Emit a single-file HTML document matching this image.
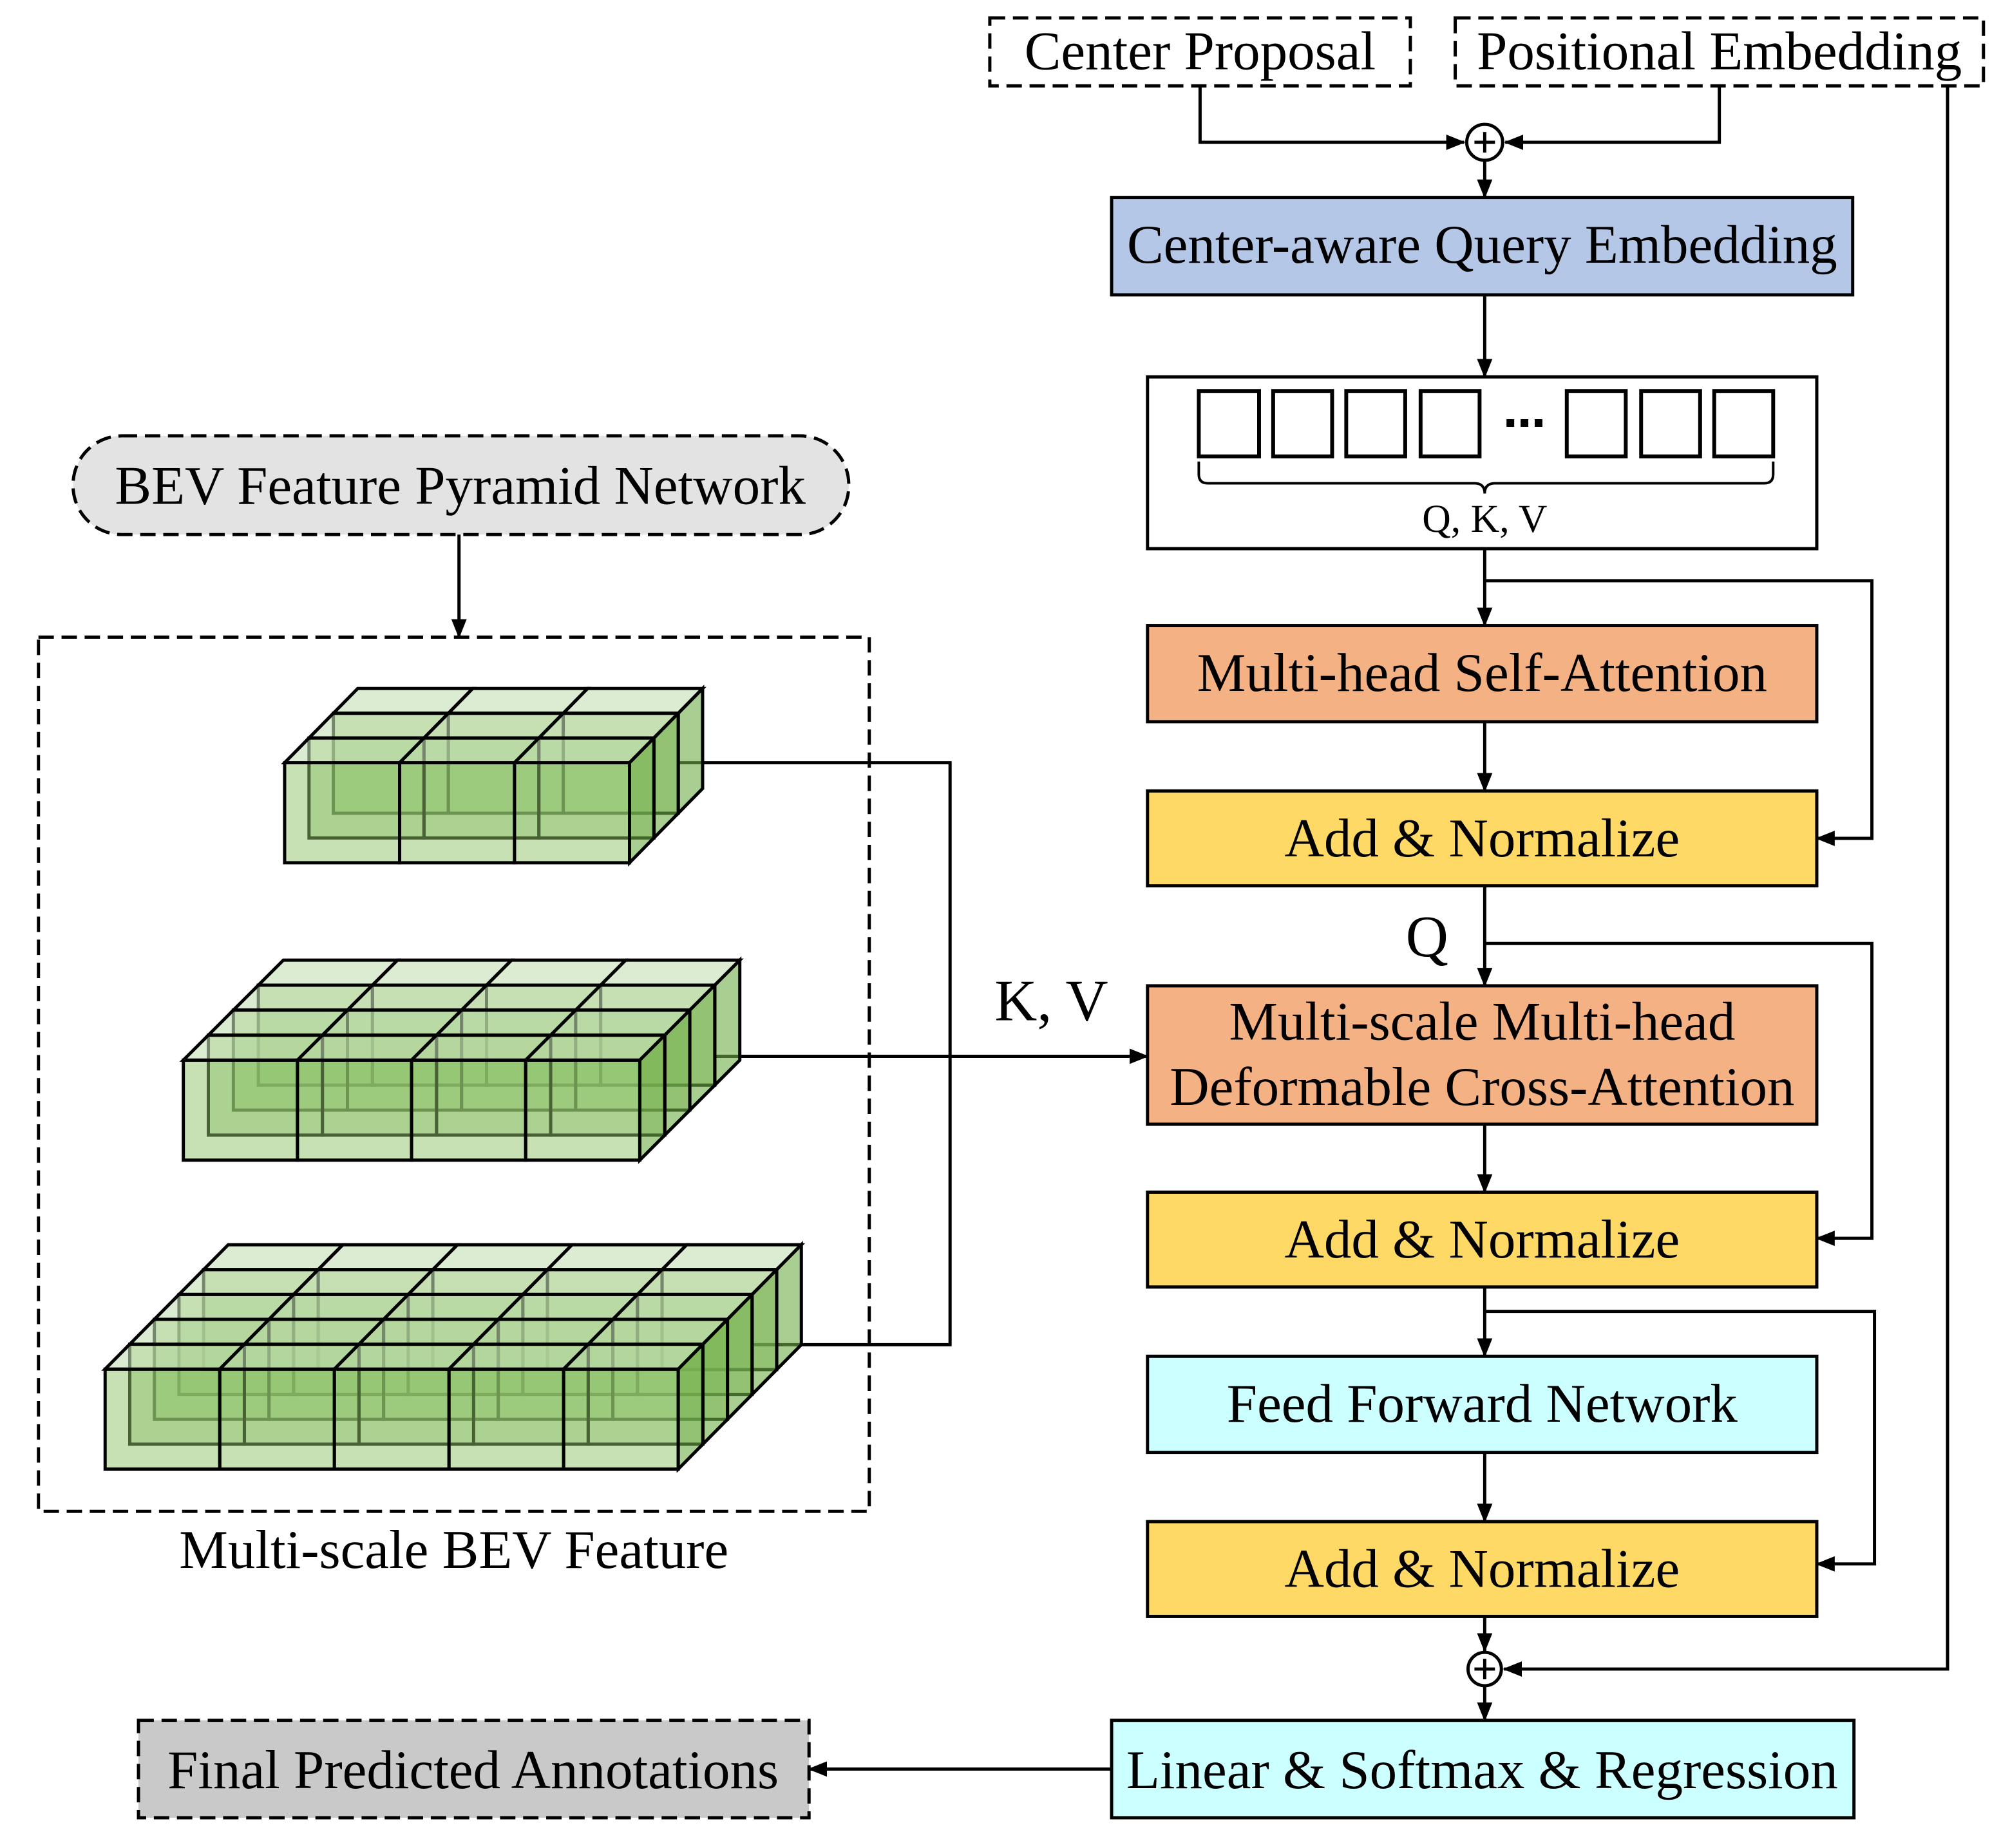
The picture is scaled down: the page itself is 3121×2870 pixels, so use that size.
<!DOCTYPE html>
<html><head><meta charset="utf-8"><style>
html,body{margin:0;padding:0;background:#fff}
svg{display:block}
text{font-family:"Liberation Serif",serif;fill:#000}
</style></head><body>
<svg id="s" width="3121" height="2870" viewBox="0 0 1567.7 1441.6" xmlns="http://www.w3.org/2000/svg">
<defs>
<marker id="b" markerWidth="16" markerHeight="12" refX="14" refY="6" orient="auto" markerUnits="userSpaceOnUse"><path d="M0,0 L15,6 L0,12 z" fill="#000"/></marker></defs>
<g stroke="#000" stroke-width="2.5" fill="none">
<rect x="772" y="14" width="328" height="53" stroke-dasharray="12,6"/>
<rect x="1135" y="14" width="412" height="53" stroke-dasharray="12,6"/>
<circle cx="1158" cy="111" r="14"/>
<path d="M1150,111h16M1158,103v16"/>
<path d="M936,67V111H1142" marker-end="url(#b)"/>
<path d="M1341,67V111H1174" marker-end="url(#b)"/>
<path d="M1519,67V1302H1173" marker-end="url(#b)"/>
<path d="M1158,125V154" marker-end="url(#b)"/>
<rect x="867" y="154" width="578" height="76" fill="#b4c7e7"/>
<path d="M1158,230V294" marker-end="url(#b)"/>
<rect x="895" y="294" width="522" height="134" fill="#fff"/>
<g stroke-width="3">
<rect x="935" y="305" width="47" height="51"/><rect x="993" y="305" width="46" height="51"/>
<rect x="1050" y="305" width="46" height="51"/><rect x="1108" y="305" width="46" height="51"/>
<rect x="1222" y="305" width="46" height="51"/><rect x="1280" y="305" width="46" height="51"/>
<rect x="1337" y="305" width="46" height="51"/>
</g>
<path d="M935,360v10q0,7 7,7H1150q8,0 8,8q0,-8 8,-8H1376q7,0 7,-7v-10" stroke-width="2"/>
<path d="M1158,428V488" marker-end="url(#b)"/>
<path d="M1158,453H1460V654H1417" marker-end="url(#b)"/>
<rect x="895" y="488" width="522" height="75" fill="#f4b183"/>
<path d="M1158,563V617" marker-end="url(#b)"/>
<rect x="895" y="617" width="522" height="74" fill="#ffd966"/>
<path d="M1158,691V769" marker-end="url(#b)"/>
<path d="M1158,736H1460V966H1417" marker-end="url(#b)"/>
<rect x="895" y="769" width="522" height="108" fill="#f4b183"/>
<path d="M1158,877V930" marker-end="url(#b)"/>
<rect x="895" y="930" width="522" height="74" fill="#ffd966"/>
<path d="M1158,1004V1058" marker-end="url(#b)"/>
<path d="M1158,1023H1462V1220H1417" marker-end="url(#b)"/>
<rect x="895" y="1058" width="522" height="75" fill="#ccffff"/>
<path d="M1158,1133V1187" marker-end="url(#b)"/>
<rect x="895" y="1187" width="522" height="74" fill="#ffd966"/>
<path d="M1158,1261V1288" marker-end="url(#b)"/>
<circle cx="1158" cy="1302" r="13"/>
<path d="M1150,1302h16M1158,1294v16"/>
<path d="M1158,1315V1342" marker-end="url(#b)"/>
<rect x="867" y="1342" width="579" height="76" fill="#ccffff"/>
<path d="M867,1380H631" marker-end="url(#b)"/>
<rect x="108" y="1342" width="523" height="76" fill="#c9c9c9" stroke-dasharray="12,6"/>
<rect x="57" y="340" width="605" height="77" rx="38" fill="#e3e3e3" stroke-dasharray="12,6"/>
<path d="M358,417V497" marker-end="url(#b)"/>
<rect x="30" y="497" width="648" height="682" stroke-dasharray="12,6"/>
<path d="M530,595H741V1049H587"/>
<path d="M558,824H895" marker-end="url(#b)"/>
</g>
<g fill="#000"><rect x="1175" y="327" width="6" height="6"/><rect x="1186" y="327" width="6" height="6"/><rect x="1197" y="327" width="6" height="6"/></g>
<g id="cubes"></g>
<g font-size="42.7" text-anchor="middle">
<text x="936" y="54">Center Proposal</text>
<text x="1341" y="54">Positional Embedding</text>
<text x="1156" y="205">Center-aware Query Embedding</text>
<text x="1158" y="415" font-size="31">Q, K, V</text>
<text x="1156" y="539">Multi-head Self-Attention</text>
<text x="1156" y="668">Add &amp; Normalize</text>
<text x="1113" y="746" font-size="46">Q</text>
<text x="820" y="796" font-size="46">K, V</text>
<text x="1156" y="811">Multi-scale Multi-head</text>
<text x="1156" y="862">Deformable Cross-Attention</text>
<text x="1156" y="981">Add &amp; Normalize</text>
<text x="1156" y="1109">Feed Forward Network</text>
<text x="1156" y="1238">Add &amp; Normalize</text>
<text x="1156" y="1395">Linear &amp; Softmax &amp; Regression</text>
<text x="369" y="1395">Final Predicted Annotations</text>
<text x="359" y="393">BEV Feature Pyramid Network</text>
<text x="354" y="1223">Multi-scale BEV Feature</text>
</g>
</svg>
<script>
(function(){
var g=document.getElementById('cubes'),NS='http://www.w3.org/2000/svg';
function poly(pts,fill,op){var p=document.createElementNS(NS,'polygon');p.setAttribute('points',pts.map(function(q){return q[0].toFixed(1)+','+q[1].toFixed(1)}).join(' '));p.setAttribute('fill',fill);p.setAttribute('fill-opacity',op);p.setAttribute('stroke','#000');p.setAttribute('stroke-width','2.5');g.appendChild(p);}
function stack(x0,x1,y0,y1,n,dx,dy){
 var w=(x1-x0)/n;
 for(var k=n-1;k>=0;k--){
  for(var c=0;c<n;c++){
   var fx=x0+c*w+k*dx, fy=y0+k*dy, h=y1-y0;
   poly([[fx,fy],[fx+w,fy],[fx+w,fy+h],[fx,fy+h]],'#8fc46c','0.5');
   poly([[fx,fy],[fx+dx,fy+dy],[fx+w+dx,fy+dy],[fx+w,fy]],'#c5e0b4','0.6');
   if(c==n-1) poly([[fx+w,fy],[fx+w+dx,fy+dy],[fx+w+dx,fy+h+dy],[fx+w,fy+h]],'#70ad47','0.6');
  }
 }
}
stack(222,491,595,673,3,19,-19.3);
stack(143,499,827,905,4,19.5,-19.5);
stack(82,529,1068,1146,5,19.2,-19.4);
})();
</script>
</body></html>
